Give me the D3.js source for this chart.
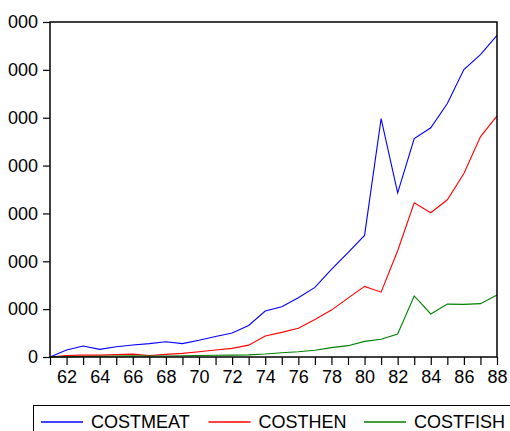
<!DOCTYPE html>
<html>
<head>
<meta charset="utf-8">
<script src="https://cdn.jsdelivr.net/npm/d3@7"></script>
<style>
  body { margin: 0; background: #fff; }
  svg { display: block; font-family: "Liberation Sans", Arial, sans-serif; }
</style>
</head>
<body>
<div id="chart-area"></div>
<script>
var years = [1961, 1962, 1963, 1964, 1965, 1966, 1967, 1968, 1969, 1970,
  1971, 1972, 1973, 1974, 1975, 1976, 1977, 1978, 1979, 1980,
  1981, 1982, 1983, 1984, 1985, 1986, 1987, 1988];

var costMeat = [0, 146, 230, 160, 215, 250, 280, 320, 280, 350,
  430, 500, 660, 960, 1050, 1240, 1455, 1830, 2180, 2540,
  4980, 3430, 4565, 4790, 5295, 6005, 6320, 6720];

var costHen = [0, 30, 40, 40, 50, 60, 30, 55, 75, 110,
  145, 180, 248, 440, 515, 600, 785, 980, 1230, 1475,
  1355, 2220, 3220, 3015, 3285, 3835, 4600, 5040];

var costFish = [0, 5, 10, 15, 20, 25, 20, 20, 25, 30,
  35, 40, 45, 62, 90, 110, 140, 195, 237, 327,
  370, 480, 1275, 900, 1105, 1100, 1115, 1295];

var yTicks = [0, 1000, 2000, 3000, 4000, 5000, 6000, 7000];
var xLabelYears = [1962, 1964, 1966, 1968, 1970, 1972, 1974, 1976,
  1978, 1980, 1982, 1984, 1986, 1988];

var seriesNames = ["COSTMEAT", "COSTHEN", "COSTFISH"];
var seriesColors = ["#0000ff", "#ff0000", "#008000"];
var seriesValues = [costMeat, costHen, costFish];

var margin = { left: 50, right: 13, top: 22, bottom: 74 };
var width = 510 - margin.left - margin.right;
var height = 431 - margin.top - margin.bottom;
var fontSize = "18px";

var svg = d3
  .select("#chart-area")
  .append("svg")
  .attr("width", 510)
  .attr("height", 431)
  .append("g")
  .attr("transform", "translate(" + margin.left + "," + margin.top + ")");

var x = d3.scaleLinear().domain([1961, 1988]).range([0, width]);
var y = d3.scaleLinear().domain([0, 7000]).range([height, 0]);

/*----axes---- */
// the source picture is cropped, only the last three digits of the y labels show
var yAxis = d3
  .axisLeft(y)
  .tickValues(yTicks)
  .tickSize(7)
  .tickPadding(5)
  .tickFormat(function (d) {
    return String(d).slice(-3);
  });

var yg = svg.append("g").attr("class", "y-axis").call(yAxis);
yg.select(".domain").remove();
yg.selectAll("line").attr("stroke", "#000").attr("stroke-width", 1.2);
yg.selectAll("text")
  .attr("font-size", fontSize)
  .attr("fill", "#000")
  .attr("font-family", "Liberation Sans, Arial, sans-serif");

var xAxis = d3
  .axisBottom(x)
  .tickValues(years)
  .tickSize(8)
  .tickPadding(5)
  .tickFormat(function (d) {
    return xLabelYears.indexOf(d) >= 0 ? String(d).slice(2) : "";
  });

var xg = svg
  .append("g")
  .attr("class", "x-axis")
  .attr("transform", "translate(0," + height + ")")
  .call(xAxis);
xg.select(".domain").remove();
xg.selectAll("line").attr("stroke", "#000").attr("stroke-width", 1.2);
xg.selectAll("text")
  .attr("font-size", fontSize)
  .attr("fill", "#000")
  .attr("font-family", "Liberation Sans, Arial, sans-serif");

/*----lines---- */
var line = d3
  .line()
  .x(function (d, i) { return x(years[i]); })
  .y(function (d) { return y(d); });

seriesValues.forEach(function (vals, k) {
  svg
    .append("path")
    .datum(vals)
    .attr("fill", "none")
    .attr("stroke", seriesColors[k])
    .attr("stroke-width", 1.1)
    .attr("d", line);
});

/*----frame---- */
svg
  .append("rect")
  .attr("x", 0)
  .attr("y", 0)
  .attr("width", width)
  .attr("height", height)
  .attr("fill", "none")
  .attr("stroke", "#000")
  .attr("stroke-width", 1.5);

/*----legend---- */
var legend = d3.select("svg").append("g").attr("class", "legend");
legend
  .append("rect")
  .attr("x", 33.5)
  .attr("y", 405.5)
  .attr("width", 500)
  .attr("height", 40)
  .attr("fill", "none")
  .attr("stroke", "#000")
  .attr("stroke-width", 1);

var legendX = [41, 208.5, 364];
seriesNames.forEach(function (name, k) {
  legend
    .append("path")
    .attr("d", "M" + legendX[k] + ",422H" + (legendX[k] + 42))
    .attr("fill", "none")
    .attr("stroke", seriesColors[k])
    .attr("stroke-width", 1.5);
  legend
    .append("text")
    .attr("x", legendX[k] + 50)
    .attr("y", 428)
    .attr("font-size", fontSize)
    .attr("fill", "#000")
    .text(name);
});
</script>
</body>
</html>
